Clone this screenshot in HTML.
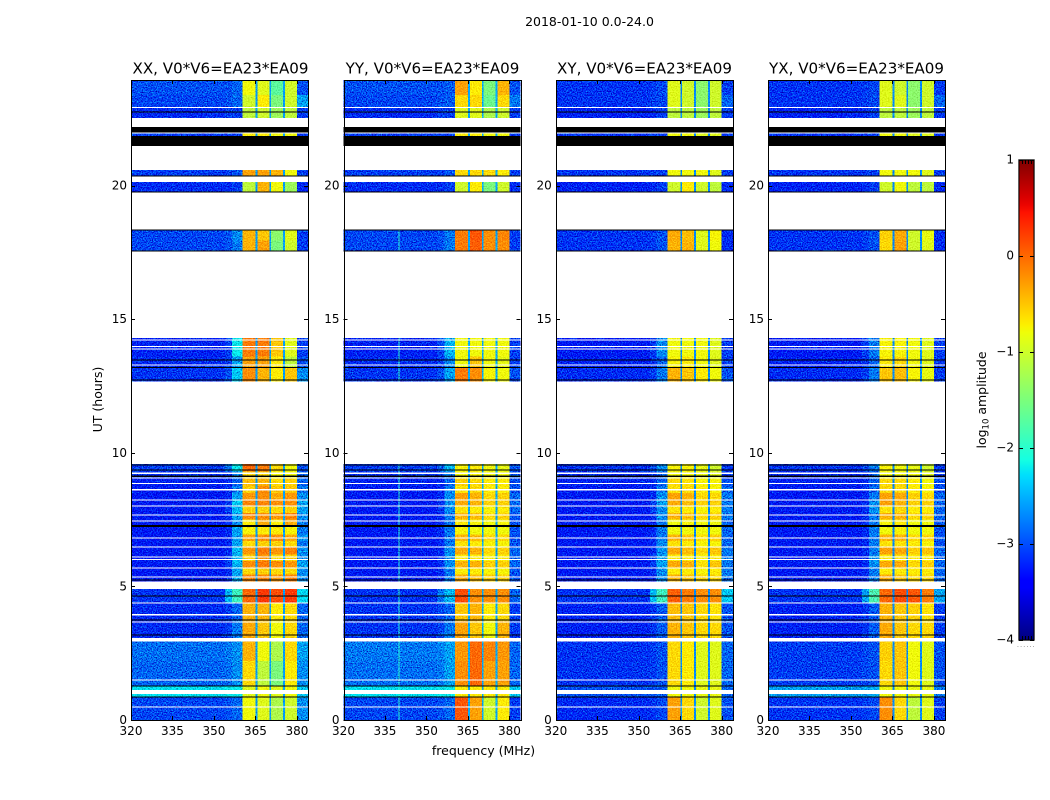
<!DOCTYPE html>
<html lang="en">
<head>
<meta charset="utf-8">
<title>2018-01-10 0.0-24.0</title>
<style>
html,body{margin:0;padding:0;background:#fff;width:1050px;height:800px;overflow:hidden}
svg{display:block}
text{font-family:"DejaVu Sans","Liberation Sans",sans-serif;fill:#000}
.tick-label{font-size:12px}
.panel-title{font-size:15.1px;text-anchor:middle}
.axis-title{font-size:12.5px;text-anchor:middle}
</style>
</head>
<body>
<svg id="chart" xmlns="http://www.w3.org/2000/svg" width="1050" height="800" viewBox="0 0 1050 800">
  <defs>
    <filter id="speckle" filterUnits="userSpaceOnUse" x="0" y="0" width="1050" height="800" color-interpolation-filters="sRGB">
      <feTurbulence type="fractalNoise" baseFrequency="0.8" numOctaves="2" seed="7" result="n"/>
      <feColorMatrix in="n" type="matrix" values="0.1 0 0 0 0.45  1.6 0 0 0 -0.3  1.2 0 0 0 -0.1  0 0 0 0 1" result="c"/>
      <feComposite in="SourceGraphic" in2="c" operator="arithmetic" k1="0" k2="1" k3="1" k4="-0.5" result="m"/>
      <feComposite in="m" in2="SourceGraphic" operator="in"/>
    </filter>
    <filter id="speckle-soft" filterUnits="userSpaceOnUse" x="0" y="0" width="1050" height="800" color-interpolation-filters="sRGB">
      <feTurbulence type="fractalNoise" baseFrequency="0.8" numOctaves="2" seed="11" result="n"/>
      <feColorMatrix in="n" type="matrix" values="0.3 0 0 0 0.35  0.6 0 0 0 0.2  0.4 0 0 0 0.3  0 0 0 0 1" result="c"/>
      <feComposite in="SourceGraphic" in2="c" operator="arithmetic" k1="0" k2="1" k3="1" k4="-0.5" result="m"/>
      <feComposite in="m" in2="SourceGraphic" operator="in"/>
    </filter>
    <linearGradient id="jet-gradient" x1="0" y1="1" x2="0" y2="0"></linearGradient>
  </defs>
  <rect x="0" y="0" width="1050" height="800" fill="#fff"/>
  <text x="589.5" y="26" text-anchor="middle" style="font-size:12.5px">2018-01-10 0.0-24.0</text>

  <g id="panel-xx"></g>
  <g id="panel-yy"></g>
  <g id="panel-xy"></g>
  <g id="panel-yx"></g>

  <text class="panel-title" x="220.5" y="73.5">XX, V0*V6=EA23*EA09</text>
  <text class="panel-title" x="432.5" y="73.5">YY, V0*V6=EA23*EA09</text>
  <text class="panel-title" x="644.5" y="73.5">XY, V0*V6=EA23*EA09</text>
  <text class="panel-title" x="856.5" y="73.5">YX, V0*V6=EA23*EA09</text>

  <text class="axis-title" x="483.5" y="755">frequency (MHz)</text>
  <text class="axis-title" transform="translate(102 399.5) rotate(-90)">UT (hours)</text>

  <g id="colorbar"></g>
  <text class="axis-title" transform="translate(986 400) rotate(-90)">log<tspan dy="2.5" style="font-size:8.5px">10</tspan><tspan dy="-2.5"> amplitude</tspan></text>
  <text x="1017" y="647" style="font-size:6px;fill:#555;letter-spacing:1.2px">......</text>
</svg>
<script>
/* Axis tick labels */
const xTickValues = [320, 335, 350, 365, 380];
const yTickValues = [0, 5, 10, 15, 20];
const colorbarTickValues = [1, 0, -1, -2, -3, -4];

/* Frequency channels in MHz: background, two shoulders, four bands, tail */
const channelEdges = [320, 354, 356.5, 360.4, 365, 370, 375, 380, 384];
const gapChannels = [365, 370, 375];
const gapWidthMHz = 0.7;
const gapValues = [-2.6, -2.55, -2.7, -2.7];

/* Time rows in UT hours */
const rowStartHours = [0,0.86,1.27,2.2,3.07,3.7,4.4,5.18,5.45,5.7,5.95,6.2,6.45,6.7,6.95,7.26,7.5,7.75,8,8.25,8.5,8.75,9.06,9.3,12.67,13.17,13.6,17.55,17.95,19.76,20.36,21.86,22.53,22.92,23.4];
const rowEndHours = [0.86,1.27,2.2,3.07,3.7,4.4,4.95,5.45,5.7,5.95,6.2,6.45,6.7,6.95,7.26,7.5,7.75,8,8.25,8.5,8.75,9.06,9.3,9.58,13.17,13.6,14.3,17.95,18.34,20.13,20.58,21.97,22.92,23.4,23.95];

/* Flagged (white) and saturated (black) time intervals, UT hours */
const flaggedStart = [0.47,0.97,1.48,2.94,3.65,3.91,4.36,4.9,5.33,5.67,5.99,6.08,6.45,6.79,7.43,7.65,7.99,8.21,8.58,8.83,9.04,9.21,13.27,13.86,13.96,14.2,21.95,22.91];
const flaggedEnd = [0.51,1.12,1.52,3.07,3.69,3.97,4.4,5.18,5.37,5.71,6.03,6.12,6.49,6.83,7.47,7.69,8.03,8.25,8.64,8.87,9.08,9.27,13.31,13.9,14,14.24,21.99,22.95];
const blackStart = [0.85,1.26,3.17,3.73,4.63,5.22,7.23,9.09,9.34,9.52,12.7,13.17,13.45,17.53,18.33,19.74,20.34,21.48,21.99,22.73];
const blackEnd = [0.88,1.29,3.2,3.76,4.66,5.26,7.29,9.15,9.38,9.56,12.74,13.21,13.49,17.57,18.36,19.78,20.38,21.86,22.19,22.77];

/* log10 amplitude per row: [background, shoulder1, shoulder2, band1, band2, band3, band4, tail] */
const xxValues = [
[-3.05,-3.0,-2.9,-0.8,-0.9,-1.2,-1.0,-2.7],
[-2.25,-2.2,-2.2,-0.9,-0.8,-0.9,-0.8,-2.4],
[-2.9,-2.85,-2.7,-0.6,-1.1,-1.5,-0.7,-2.7],
[-2.85,-2.8,-2.7,-0.4,-0.8,-1.2,-0.6,-2.6],
[-3.2,-3.1,-2.8,-0.35,-0.5,-0.8,-0.6,-2.9],
[-3.2,-3.1,-2.9,-0.4,-0.4,-0.7,-0.6,-2.9],
[-3.15,-2.5,-1.9,0.0,0.25,0.15,0.25,-2.3],
[-3.3,-3.2,-2.6,-0.15,-0.15,-0.25,-0.15,-2.7],
[-3.3,-3.2,-2.6,-0.6,-0.55,-0.6,-0.6,-2.7],
[-3.3,-3.1,-2.5,-0.2,-0.1,-0.2,-0.25,-2.6],
[-3.3,-3.1,-2.5,-0.55,-0.25,-0.6,-0.55,-2.7],
[-3.3,-3.2,-2.5,-0.25,-0.1,-0.25,-0.15,-2.7],
[-3.3,-3.2,-2.6,-0.6,-0.55,-0.55,-0.6,-2.8],
[-3.3,-3.2,-2.6,-0.3,-0.2,-0.2,-0.35,-2.7],
[-3.3,-3.2,-2.6,-0.75,-0.7,-0.7,-0.75,-2.8],
[-3.3,-3.2,-2.7,-0.7,-0.35,-0.7,-0.35,-2.8],
[-3.3,-3.2,-2.6,-0.2,-0.2,-0.25,-0.15,-2.7],
[-3.3,-3.1,-2.5,-0.55,-0.55,-0.6,-0.55,-2.6],
[-3.3,-3.1,-2.4,-0.15,-0.15,-0.2,-0.2,-2.6],
[-3.3,-3.2,-2.6,-0.25,-0.2,-0.35,-0.25,-2.7],
[-3.3,-3.2,-2.8,-0.55,-0.2,-0.5,-0.5,-2.8],
[-3.25,-3.2,-2.9,-0.45,-0.4,-0.6,-0.55,-2.9],
[-3.15,-3.1,-2.8,-0.6,-0.6,-0.8,-0.8,-2.9],
[-3.1,-2.8,-2.2,0.0,-0.1,-0.6,-0.8,-3.0],
[-3.15,-3.0,-2.4,-0.2,-0.4,-0.7,-0.5,-2.7],
[-3.2,-3.1,-2.6,-0.3,-0.3,-0.7,-1.1,-3.0],
[-3.25,-3.1,-2.2,-0.1,-0.1,-0.5,-0.9,-3.1],
[-3.05,-3.0,-2.8,-0.4,-0.3,-1.5,-1.0,-3.1],
[-3.05,-3.0,-2.7,-0.4,-0.5,-1.4,-0.9,-3.1],
[-3.2,-3.2,-3.1,-1.1,-0.4,-0.8,-1.3,-3.2],
[-3.1,-3.1,-3.0,-0.3,-0.3,-0.4,-0.8,-3.1],
[-3.1,-3.1,-3.1,-0.7,-0.7,-0.8,-0.8,-3.1],
[-3.2,-3.1,-3.1,-1.1,-1.0,-1.3,-1.1,-3.1],
[-3.05,-3.0,-2.9,-1.0,-0.7,-1.5,-1.0,-2.6],
[-3.0,-3.0,-2.9,-0.8,-0.9,-1.7,-1.0,-3.0]
];
const yyValues = [
[-3.05,-3.0,-2.9,0.1,-0.3,-1.0,-0.7,-3.1],
[-2.25,-2.2,-2.2,-0.7,-0.7,-0.7,-0.7,-2.4],
[-2.85,-2.8,-2.6,-0.2,0.0,-0.3,-0.3,-2.9],
[-2.8,-2.75,-2.6,-0.25,0.0,-0.15,-0.25,-2.9],
[-3.15,-3.05,-2.8,-0.3,-0.5,-0.8,-0.4,-3.1],
[-3.15,-3.05,-2.9,-0.5,-0.4,-0.7,-0.6,-3.1],
[-3.15,-2.8,-2.5,0.15,-0.2,-0.2,-0.2,-2.9],
[-3.3,-3.2,-2.8,-0.35,-0.45,-0.55,-0.55,-3.0],
[-3.3,-3.2,-2.8,-0.7,-0.7,-0.75,-0.75,-3.0],
[-3.3,-3.15,-2.7,-0.4,-0.4,-0.55,-0.55,-2.9],
[-3.3,-3.15,-2.7,-0.7,-0.7,-0.75,-0.7,-2.9],
[-3.3,-3.2,-2.7,-0.35,-0.4,-0.6,-0.55,-2.9],
[-3.3,-3.2,-2.8,-0.65,-0.7,-0.75,-0.75,-3.0],
[-3.3,-3.2,-2.8,-0.4,-0.45,-0.6,-0.6,-3.0],
[-3.3,-3.2,-2.8,-0.75,-0.8,-0.8,-0.8,-3.0],
[-3.3,-3.2,-2.8,-0.7,-0.75,-0.8,-0.75,-3.0],
[-3.3,-3.2,-2.8,-0.4,-0.45,-0.6,-0.55,-3.0],
[-3.3,-3.15,-2.7,-0.65,-0.7,-0.75,-0.7,-2.9],
[-3.3,-3.15,-2.7,-0.35,-0.4,-0.55,-0.55,-2.9],
[-3.3,-3.2,-2.7,-0.3,-0.4,-0.6,-0.55,-2.9],
[-3.3,-3.2,-2.8,-0.65,-0.6,-0.7,-0.7,-3.0],
[-3.25,-3.2,-2.9,-0.55,-0.6,-0.7,-0.7,-3.0],
[-3.15,-3.1,-2.8,-0.8,-0.75,-0.8,-0.8,-3.0],
[-3.1,-2.9,-2.5,-0.75,-0.7,-0.8,-0.85,-3.0],
[-3.15,-3.0,-2.6,-0.1,-0.2,-0.75,-0.8,-3.0],
[-3.2,-3.1,-2.7,-0.8,-0.5,-0.8,-0.85,-3.1],
[-3.25,-3.05,-2.5,-0.8,-0.8,-0.8,-0.8,-3.1],
[-3.05,-3.0,-2.8,-0.1,0.05,-0.2,-0.2,-3.1],
[-3.05,-3.0,-2.8,-0.1,0.1,-0.2,-0.15,-3.1],
[-3.2,-3.2,-3.1,-1.0,-0.7,-1.5,-1.0,-3.2],
[-3.1,-3.1,-3.0,-0.6,-0.6,-0.6,-0.7,-3.1],
[-3.1,-3.1,-3.1,-0.7,-0.7,-0.8,-0.8,-3.1],
[-3.2,-3.1,-3.1,-0.9,-0.9,-1.2,-1.0,-3.1],
[-3.05,-3.0,-2.95,-0.6,-0.6,-1.6,-0.6,-2.8],
[-3.0,-3.0,-2.95,-0.3,-0.7,-1.5,-0.4,-3.0]
];
const xyValues = [
[-3.2,-3.15,-3.05,-0.3,-0.6,-1.0,-0.9,-3.0],
[-3.0,-3.0,-2.95,-0.8,-0.8,-0.85,-0.85,-2.9],
[-3.15,-3.1,-3.0,-0.6,-0.7,-0.9,-0.9,-2.9],
[-3.15,-3.1,-3.0,-0.6,-0.7,-0.9,-0.9,-2.9],
[-3.25,-3.15,-2.95,-0.4,-0.5,-0.6,-0.6,-3.0],
[-3.25,-3.15,-2.95,-0.45,-0.5,-0.6,-0.65,-3.0],
[-3.15,-2.5,-1.9,0.05,-0.1,-0.2,-0.2,-2.4],
[-3.3,-3.2,-2.7,-0.4,-0.5,-0.6,-0.6,-2.8],
[-3.3,-3.2,-2.7,-0.7,-0.7,-0.75,-0.7,-2.8],
[-3.3,-3.1,-2.6,-0.35,-0.4,-0.65,-0.5,-2.8],
[-3.3,-3.1,-2.6,-0.7,-0.7,-0.75,-0.7,-2.8],
[-3.3,-3.2,-2.7,-0.35,-0.45,-0.6,-0.5,-2.8],
[-3.3,-3.2,-2.7,-0.65,-0.7,-0.75,-0.75,-2.9],
[-3.3,-3.2,-2.8,-0.4,-0.5,-0.65,-0.55,-2.9],
[-3.3,-3.2,-2.8,-0.8,-0.8,-0.8,-0.8,-2.9],
[-3.3,-3.2,-2.8,-0.8,-0.75,-0.8,-0.8,-2.9],
[-3.3,-3.2,-2.7,-0.4,-0.45,-0.6,-0.55,-2.8],
[-3.3,-3.1,-2.7,-0.65,-0.7,-0.75,-0.7,-2.8],
[-3.3,-3.1,-2.6,-0.35,-0.45,-0.55,-0.55,-2.8],
[-3.3,-3.2,-2.7,-0.3,-0.4,-0.6,-0.6,-2.8],
[-3.3,-3.2,-2.8,-0.65,-0.6,-0.7,-0.75,-2.9],
[-3.25,-3.2,-2.9,-0.6,-0.65,-0.75,-0.75,-3.0],
[-3.2,-3.15,-2.9,-0.8,-0.8,-0.85,-0.9,-3.1],
[-3.15,-3.0,-2.7,-0.75,-0.75,-0.85,-1.0,-3.1],
[-3.2,-3.1,-2.8,-0.4,-0.5,-0.7,-0.8,-3.0],
[-3.25,-3.15,-2.9,-0.75,-0.7,-0.8,-0.9,-3.1],
[-3.3,-3.1,-2.7,-0.8,-0.8,-0.8,-0.9,-3.1],
[-3.15,-3.1,-3.0,-0.4,-0.4,-0.9,-0.8,-3.2],
[-3.15,-3.1,-3.0,-0.35,-0.45,-0.9,-0.75,-3.2],
[-3.25,-3.2,-3.1,-1.0,-0.7,-1.0,-1.1,-3.2],
[-3.15,-3.1,-3.1,-0.8,-0.8,-0.8,-0.9,-3.1],
[-3.15,-3.1,-3.1,-0.8,-0.8,-0.9,-0.9,-3.1],
[-3.25,-3.2,-3.1,-1.1,-1.1,-1.3,-1.1,-3.1],
[-3.15,-3.1,-3.05,-0.9,-1.0,-1.4,-1.0,-2.9],
[-3.15,-3.1,-3.05,-0.9,-1.0,-1.4,-1.0,-3.1]
];
const yxValues = [
[-3.15,-3.1,-3.05,-0.2,-0.6,-1.1,-0.9,-3.1],
[-2.6,-2.6,-2.55,-0.8,-0.8,-0.85,-0.85,-2.8],
[-3.1,-3.05,-3.0,-0.6,-0.5,-0.8,-0.9,-3.0],
[-3.1,-3.05,-3.0,-0.55,-0.5,-0.8,-0.9,-3.0],
[-3.25,-3.15,-2.95,-0.35,-0.5,-0.6,-0.6,-3.1],
[-3.25,-3.15,-2.95,-0.4,-0.5,-0.55,-0.65,-3.1],
[-3.15,-2.6,-1.8,0.0,0.15,0.1,-0.1,-2.6],
[-3.3,-3.2,-2.8,-0.35,-0.5,-0.6,-0.6,-2.9],
[-3.3,-3.2,-2.8,-0.7,-0.7,-0.7,-0.7,-2.9],
[-3.3,-3.2,-2.7,-0.35,-0.35,-0.6,-0.55,-2.9],
[-3.3,-3.2,-2.7,-0.7,-0.65,-0.7,-0.7,-2.9],
[-3.3,-3.2,-2.8,-0.3,-0.35,-0.55,-0.5,-2.9],
[-3.3,-3.2,-2.8,-0.65,-0.65,-0.7,-0.75,-3.0],
[-3.3,-3.2,-2.8,-0.4,-0.4,-0.6,-0.6,-3.0],
[-3.3,-3.2,-2.8,-0.8,-0.75,-0.8,-0.8,-3.0],
[-3.3,-3.2,-2.8,-0.75,-0.7,-0.8,-0.8,-3.0],
[-3.3,-3.2,-2.8,-0.4,-0.4,-0.6,-0.55,-2.9],
[-3.3,-3.2,-2.7,-0.65,-0.6,-0.7,-0.7,-2.9],
[-3.3,-3.2,-2.7,-0.3,-0.4,-0.55,-0.55,-2.9],
[-3.3,-3.2,-2.8,-0.3,-0.35,-0.55,-0.6,-2.9],
[-3.3,-3.2,-2.9,-0.6,-0.6,-0.7,-0.75,-3.0],
[-3.25,-3.2,-2.9,-0.6,-0.6,-0.7,-0.8,-3.0],
[-3.2,-3.15,-2.9,-0.8,-0.8,-0.8,-0.9,-3.1],
[-3.15,-3.05,-2.8,-0.75,-0.8,-0.85,-1.0,-3.1],
[-3.2,-3.1,-2.8,-0.5,-0.45,-0.75,-0.85,-3.1],
[-3.25,-3.15,-2.9,-0.7,-0.6,-0.8,-0.9,-3.1],
[-3.3,-3.1,-2.8,-0.75,-0.75,-0.8,-0.9,-3.1],
[-3.15,-3.1,-3.0,-0.6,-0.3,-1.0,-0.9,-3.2],
[-3.15,-3.1,-3.0,-0.55,-0.35,-1.0,-0.85,-3.2],
[-3.25,-3.2,-3.1,-1.0,-0.8,-1.1,-1.1,-3.2],
[-3.15,-3.1,-3.1,-0.8,-0.8,-0.8,-0.9,-3.1],
[-3.15,-3.1,-3.1,-0.8,-0.8,-0.9,-0.9,-3.1],
[-3.25,-3.2,-3.1,-1.1,-1.1,-1.3,-1.1,-3.1],
[-3.15,-3.1,-3.05,-0.9,-0.9,-1.4,-1.0,-2.9],
[-3.15,-3.1,-3.05,-0.9,-1.0,-1.4,-1.0,-3.1]
];

/* Single hot channel visible in the YY panel below 18.4 UT */
const yyHotChannel = 339.8;
const yyHotValue = -2.0;
const yyHotMaxHour = 18.34;

const SVG_NS = 'http://www.w3.org/2000/svg';
const panelLefts = [131, 343.5, 555.8, 768];
const panelWidth = 177;
const plotTop = 80, plotBottom = 720;
const freqMin = 320, freqMax = 384;
const pxPerHour = 26.72;
const amplitudeMin = -4, amplitudeMax = 1;

function xScale(left, f) { return left + (f - freqMin) / (freqMax - freqMin) * panelWidth; }
function yScale(h) { return plotBottom - h * pxPerHour; }
function interp(f, pts) {
  if (f <= pts[0][0]) return pts[0][1];
  for (let i = 1; i < pts.length; i++) {
    if (f <= pts[i][0]) {
      const a = pts[i - 1], b = pts[i];
      return a[1] + (b[1] - a[1]) * (f - a[0]) / (b[0] - a[0]);
    }
  }
  return pts[pts.length - 1][1];
}
function jetFraction(f) {
  const r = interp(f, [[0, 0], [0.35, 0], [0.66, 1], [0.89, 1], [1, 0.5]]);
  const g = interp(f, [[0, 0], [0.125, 0], [0.375, 1], [0.64, 1], [0.91, 0], [1, 0]]);
  const b = interp(f, [[0, 0.5], [0.11, 1], [0.34, 1], [0.65, 0], [1, 0]]);
  return 'rgb(' + Math.round(r * 255) + ',' + Math.round(g * 255) + ',' + Math.round(b * 255) + ')';
}
function colorOf(v) {
  return jetFraction((v - amplitudeMin) / (amplitudeMax - amplitudeMin));
}
function makeRect(parent, x, y, w, h, fill) {
  const el = document.createElementNS(SVG_NS, 'rect');
  el.setAttribute('x', x);
  el.setAttribute('y', y);
  el.setAttribute('width', w);
  el.setAttribute('height', h);
  el.setAttribute('fill', fill);
  el.setAttribute('shape-rendering', 'crispEdges');
  parent.appendChild(el);
  return el;
}
function makeLine(parent, x1, y1, x2, y2) {
  const el = document.createElementNS(SVG_NS, 'line');
  el.setAttribute('x1', x1);
  el.setAttribute('y1', y1);
  el.setAttribute('x2', x2);
  el.setAttribute('y2', y2);
  el.setAttribute('stroke', '#000');
  el.setAttribute('stroke-width', '1');
  el.setAttribute('shape-rendering', 'crispEdges');
  parent.appendChild(el);
  return el;
}
function makeLabel(parent, x, y, anchor, str) {
  const el = document.createElementNS(SVG_NS, 'text');
  el.setAttribute('x', x);
  el.setAttribute('y', y);
  el.setAttribute('text-anchor', anchor);
  el.setAttribute('class', 'tick-label');
  el.textContent = str;
  parent.appendChild(el);
  return el;
}
function minusFormat(v) { return v < 0 ? '\u2212' + Math.abs(v) : String(v); }

function drawPanel(id, values, left, panelIndex) {
  const root = document.getElementById(id);
  const backgroundCells = document.createElementNS(SVG_NS, 'g');
  backgroundCells.setAttribute('filter', 'url(#speckle)');
  
  
  root.appendChild(backgroundCells);
  const bandCells = document.createElementNS(SVG_NS, 'g');
  bandCells.setAttribute('filter', 'url(#speckle-soft)');
  
  
  root.appendChild(bandCells);

  values.forEach(function (row, r) {
    const y0 = yScale(rowEndHours[r]);
    const y1 = yScale(rowStartHours[r]);
    row.forEach(function (v, c) {
      const x0 = xScale(left, channelEdges[c]);
      const x1 = xScale(left, channelEdges[c + 1]);
      const target = (c >= 3 && c <= 6) ? bandCells : backgroundCells;
      const cell = makeRect(target, x0, y0, x1 - x0, y1 - y0, colorOf(v));
      
      
    });
    if (id === 'panel-yy' && rowEndHours[r] <= yyHotMaxHour) {
      const hot = makeRect(backgroundCells, xScale(left, yyHotChannel), y0, 1, y1 - y0, colorOf(yyHotValue));
      
      
    }
  });
  values.forEach(function (row, r) {
    const y0 = yScale(rowEndHours[r]);
    const y1 = yScale(rowStartHours[r]);
    gapChannels.forEach(function (g) {
      const gap = makeRect(bandCells, xScale(left, g), y0, gapWidthMHz / (freqMax - freqMin) * panelWidth, y1 - y0, colorOf(gapValues[panelIndex]));
      
      
    });
  });

  flaggedStart.forEach(function (s, i) {
    const y0 = yScale(flaggedEnd[i]);
    const band = makeRect(root, left, y0, panelWidth, Math.max(1, yScale(s) - y0), '#fff');
    
    
  });
  blackStart.forEach(function (s, i) {
    const y0 = yScale(blackEnd[i]);
    const band = makeRect(root, left, y0, panelWidth, Math.max(1, yScale(s) - y0), '#000');
    
    
  });

  const frame = makeRect(root, Math.round(left) + 0.5, plotTop + 0.5, panelWidth, plotBottom - plotTop, 'none');
  frame.setAttribute('stroke', '#000');
  frame.setAttribute('stroke-width', '1');
  
  

  xTickValues.forEach(function (t) {
    const x = Math.round(xScale(left, t)) + 0.5;
    const topTick = makeLine(root, x, plotTop, x, plotTop + 4);
    
    
    const bottomTick = makeLine(root, x, plotBottom - 4, x, plotBottom);
    
    
    const label = makeLabel(root, xScale(left, t), 735, 'middle', String(t));
    
    
  });
  yTickValues.forEach(function (t) {
    const y = Math.round(yScale(t)) + 0.5;
    const leftTick = makeLine(root, left, y, left + 4, y);
    
    
    const rightTick = makeLine(root, left + panelWidth - 4, y, left + panelWidth, y);
    
    
    const label = makeLabel(root, left - 4, yScale(t) + 4, 'end', String(t));
    
    
  });
}

drawPanel('panel-xx', xxValues, panelLefts[0], 0);
drawPanel('panel-yy', yyValues, panelLefts[1], 1);
drawPanel('panel-xy', xyValues, panelLefts[2], 2);
drawPanel('panel-yx', yxValues, panelLefts[3], 3);

/* Colorbar */
(function () {
  const cbLeft = 1019, cbWidth = 15, cbTop = 160, cbBottom = 640;
  const grad = document.getElementById('jet-gradient');
  for (let i = 0; i <= 64; i++) {
    const stop = document.createElementNS(SVG_NS, 'stop');
    stop.setAttribute('offset', (i / 64 * 100) + '%');
    stop.setAttribute('stop-color', jetFraction(i / 64));
    grad.appendChild(stop);
  }
  const root = document.getElementById('colorbar');
  const outer = makeRect(root, cbLeft - 0.5, cbTop - 0.5, cbWidth + 1, cbBottom - cbTop + 1, 'none');
  outer.setAttribute('stroke', '#bdbdbd');
  
  
  const ramp = makeRect(root, cbLeft, cbTop, cbWidth, cbBottom - cbTop, 'url(#jet-gradient)');
  ramp.setAttribute('stroke', '#000');
  ramp.setAttribute('stroke-width', '1');
  
  
  colorbarTickValues.forEach(function (t) {
    const y = cbBottom - (t - amplitudeMin) / (amplitudeMax - amplitudeMin) * (cbBottom - cbTop);
    const py = Math.round(y) + 0.5;
    const a = makeLine(root, cbLeft, py, cbLeft + 4, py);
    
    
    const b = makeLine(root, cbLeft + cbWidth - 4, py, cbLeft + cbWidth, py);
    
    
    const label = makeLabel(root, cbLeft - 5, y + 3.5, 'end', minusFormat(t));
    
    
  });
  [3, 6, 9, 12].forEach(function (dx) {
    const a = makeLine(root, cbLeft + dx + 0.5, cbTop, cbLeft + dx + 0.5, cbTop + 4);
    
    
    const b = makeLine(root, cbLeft + dx + 0.5, cbBottom - 4, cbLeft + dx + 0.5, cbBottom);
    
    
  });
})();
</script>
</body>
</html>
